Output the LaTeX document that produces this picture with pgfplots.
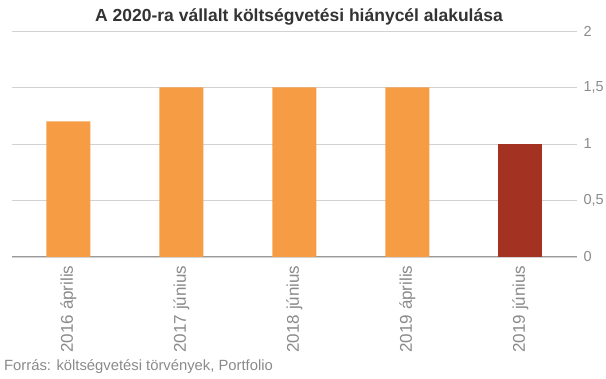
\documentclass[border=0pt]{standalone}
\usepackage{pgfplots}
\pgfplotsset{compat=1.18}
\usepackage{fontspec}
\setmainfont{Liberation Sans}
\definecolor{barorange}{HTML}{F59C45}
\definecolor{barred}{HTML}{A33222}
\definecolor{ticktext}{HTML}{8A8A8A}
\definecolor{gridc}{HTML}{D2D2D2}
\definecolor{basec}{HTML}{9A9A9A}
\definecolor{titlec}{HTML}{333333}
\begin{document}
\begin{tikzpicture}[x=1pt,y=1pt]
\useasboundingbox (0,0) rectangle (606,379);
\begin{axis}[
  at={(12pt,122pt)}, anchor=south west,
  scale only axis, width=565pt, height=226pt,
  xmin=-0.5, xmax=4.5, ymin=0, ymax=2,
  ybar, bar width=44pt, bar shift=0pt,
  axis line style={draw=none},
  major tick length=0pt,
  ytick={0,0.5,1,1.5,2},
  yticklabel pos=right,
  ymajorgrids, grid style={draw=gridc, line width=0.8pt},
  extra y ticks={0}, extra y tick labels={},
  extra y tick style={grid style={draw=basec, line width=1pt}},
  /pgf/number format/use comma,
  /pgf/number format/assume math mode=true,
  yticklabel style={anchor=west, xshift=3pt, font=\fontsize{14.5}{15}\selectfont, text=ticktext},
  xtick={0,1,2,3,4},
  xticklabels={2016 április, 2017 június, 2018 június, 2019 április, 2019 június},
  xticklabel style={rotate=90, anchor=east, xshift=-5pt, font=\fontsize{17}{18}\selectfont, text=ticktext},
]
\addplot[fill=barorange, draw=none] coordinates {(0,1.2) (1,1.5) (2,1.5) (3,1.5)};
\addplot[fill=barred, draw=none] coordinates {(4,1.0)};
\end{axis}
\node[text=titlec] at (299,362) {\fontsize{17.5}{20}\selectfont\bfseries A 2020-ra vállalt költségvetési hiánycél alakulása};
\node[anchor=west, text=ticktext, inner sep=0pt] at (4,12) {\fontsize{14.8}{16}\selectfont Forrás: költségvetési törvények, Portfolio};
\end{tikzpicture}
\end{document}
